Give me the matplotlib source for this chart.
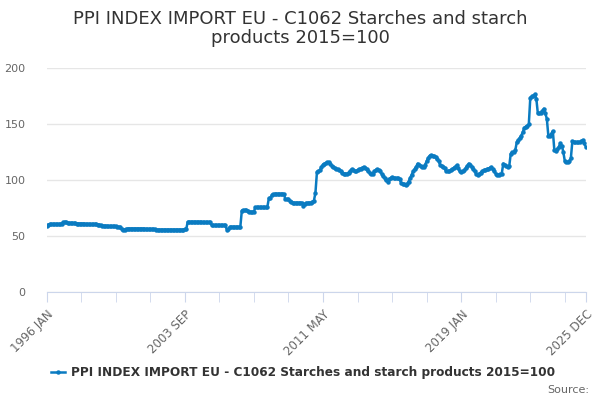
import matplotlib.pyplot as plt
import numpy as np

# monthly index values, 1996 JAN .. 2025 DEC
y1996 = [59.5, 60.5, 61, 61, 61, 61, 61, 61, 61, 61, 61.5, 62.5]
y1997 = [63, 62.5, 62, 62, 62, 62, 61.8, 61.8, 61.5, 61.5, 61.5, 61.5]
y1998 = [61.5, 61.5, 61, 61, 61, 60.8, 60.8, 60.8, 61, 61, 60.5, 60.5]
y1999 = [60, 59.5, 59.5, 59.5, 59.5, 59, 59, 59, 59, 59, 59, 58.5]
y2000 = [58.5, 58, 56.5, 56, 56, 56.5, 57, 57, 57, 57, 57, 57]
y2001 = [57, 57, 57, 57, 57, 57, 56.5, 56.5, 56.5, 56.5, 56.5, 56.5]
y2002 = [56.5, 56, 56, 56, 56, 56, 56, 56, 56, 56, 56, 56]
y2003 = [56, 56, 56, 56, 56, 56, 56, 56, 56.5, 56.5, 63, 63]
y2004 = [63, 63, 63, 63, 63, 63, 63, 63, 62.5, 62.5, 62.5, 62.5]
y2005 = [62.5, 62.5, 60, 60, 60, 60, 60, 60, 60, 60, 60, 60]
y2006 = [56, 56.5, 58.5, 58.5, 58.5, 58.5, 58.5, 58.5, 58.5, 58.5, 73, 73.5]
y2007 = [73.5, 73.5, 73, 72, 72, 72, 72, 76, 76, 76, 76, 76]
y2008 = [76, 76, 76, 76.5, 84, 84, 87, 87.5, 88, 88, 88, 88]
y2009 = [88, 88, 88, 83, 83, 83, 82, 81, 80, 80, 80, 80]
y2010 = [80, 80, 80, 77, 79, 80, 80, 80, 80, 81, 82, 89]
y2011 = [107.5, 108, 109, 112, 114, 115, 115.5, 116, 116, 115, 113, 112]
y2012 = [111, 110, 110, 109, 108, 107, 106, 106, 106, 107, 108, 110]
y2013 = [109, 108, 108, 109, 110, 110.5, 111, 112, 111, 110, 108, 107]
y2014 = [105.5, 106, 108, 109, 110, 109, 108, 106, 104, 102, 100, 99]
y2015 = [101, 102, 103, 102, 102, 102, 102, 101, 98, 97, 96.5, 96]
y2016 = [97, 99, 102, 105, 108, 110, 112, 115, 114, 113, 112, 112]
y2017 = [114, 117, 120, 122, 122.5, 122, 121.5, 121, 119, 117, 114, 113]
y2018 = [112, 111, 108, 108, 108.5, 109, 110, 111, 112, 113.5, 111, 108]
y2019 = [107.5, 108, 109, 111, 113, 115, 114, 112, 110, 108, 106, 105]
y2020 = [106, 107, 108, 109, 109.5, 110, 110.5, 111, 112, 110, 108, 106]
y2021 = [104.5, 105, 105.5, 106, 115, 114, 113, 112, 113, 124, 125, 125]
y2022 = [127, 134, 136, 138, 140, 143, 147, 148, 149, 150, 174, 175]
y2023 = [175, 177, 173, 160, 160, 160, 162, 164, 160, 155, 140, 140]
y2024 = [141, 144, 127, 126, 128, 130, 133, 131, 125, 117, 116, 116]
y2025 = [117, 120, 135, 134, 134, 134, 134, 134, 135, 136, 133, 130]

years = list(range(1996, 2026))
months = ["JAN", "FEB", "MAR", "APR", "MAY", "JUN",
          "JUL", "AUG", "SEP", "OCT", "NOV", "DEC"]
shown_labels = ["1996 JAN", "2003 SEP", "2011 MAY", "2019 JAN", "2025 DEC"]

values = (y1996 + y1997 + y1998 + y1999 + y2000 + y2001 + y2002 + y2003 +
          y2004 + y2005 + y2006 + y2007 + y2008 + y2009 + y2010 + y2011 +
          y2012 + y2013 + y2014 + y2015 + y2016 + y2017 + y2018 + y2019 +
          y2020 + y2021 + y2022 + y2023 + y2024 + y2025)
cats = ["%d %s" % (yr, m) for yr in years for m in months]
x = np.arange(len(cats))

col = "#0a7bc1"
grid = "#e6e6e6"
axcol = "#ccd6eb"
txt = "#666666"

fig = plt.figure(figsize=(6, 4), dpi=100)
ax = fig.add_axes([0.0775, 0.269, 0.899, 0.560])

ax.plot(x, values, color=col, lw=1.8, marker="o", ms=2.2,
        label="PPI INDEX IMPORT EU - C1062 Starches and starch products 2015=100")

ax.set_xlim(0, len(cats) - 1)
ax.set_ylim(0, 200)
ax.set_yticks([0, 50, 100, 150, 200])
ax.yaxis.grid(True, color=grid, lw=1)
ax.set_axisbelow(True)
for s in ["top", "right", "left"]:
    ax.spines[s].set_visible(False)
ax.spines["bottom"].set_color(axcol)
ax.tick_params(axis="y", length=0, pad=15, labelsize=8, labelcolor=txt)

major = [cats.index(l) for l in shown_labels]
minor = [i for i in range(0, len(cats), 23) if i not in major]
ax.set_xticks(major)
ax.set_xticklabels(shown_labels, rotation=45, ha="right", va="top", rotation_mode="anchor")
ax.set_xticks(minor, minor=True)
ax.tick_params(axis="x", which="both", length=7, color=axcol, labelsize=8.5, labelcolor=txt, pad=4)

fig.suptitle("PPI INDEX IMPORT EU - C1062 Starches and starch\nproducts 2015=100",
             y=0.975, fontsize=13, color="#333333", linespacing=1.05)

fig.legend(loc="center", bbox_to_anchor=(0.505, 0.068), frameon=False,
           prop={"size": 8.75, "weight": "bold"}, labelcolor="#333333",
           handlelength=1.2, handletextpad=0.5)
fig.text(0.982, 0.025, "Source:", ha="right", va="center", fontsize=8, color=txt)

fig.savefig("out.png", dpi=100)
